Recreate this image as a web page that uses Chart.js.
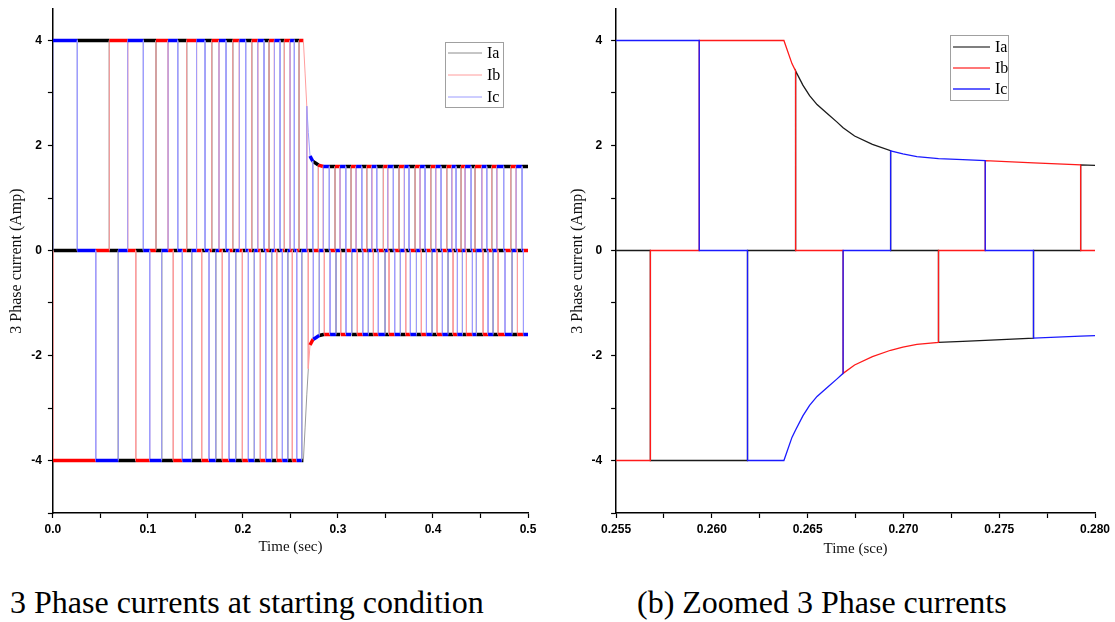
<!DOCTYPE html>
<html>
<head>
<meta charset="utf-8">
<script src="https://cdn.jsdelivr.net/npm/chart.js@4.4.1/dist/chart.umd.min.js"></script>
<style>
  body { margin: 0; background: #fff; width: 1115px; height: 622px; position: relative; overflow: hidden; }
  canvas { position: absolute; top: 0; }
  #c1 { left: 0; }
  #c2 { left: 560px; }
  .cap { position: absolute; top: 586px; font-family: "Liberation Serif", "Times New Roman", serif; font-size: 32px; line-height: 32px; color: #000; white-space: nowrap; }
</style>
</head>
<body>
<canvas id="c1" width="545" height="560"></canvas>
<canvas id="c2" width="555" height="560"></canvas>
<div class="cap" style="left:10px">3 Phase currents at starting condition</div>
<div class="cap" style="left:637px">(b) Zoomed 3 Phase currents</div>
<script>
// phases and six-step conduction states (sign of Ia, Ib, Ic)
const phaseNames = ['Ia', 'Ib', 'Ic'];
const stepSigns = [[0, -1, 1], [-1, 0, 1], [-1, 1, 0], [0, 1, -1], [1, 0, -1], [1, -1, 0]];

// (a) start-up 0 - 0.5 s : commutation instants (s)
const startTimes = [
  0.0257, 0.0451, 0.0594, 0.0688, 0.0787, 0.0872, 0.0952, 0.1019, 0.1085, 0.1145,
  0.1212, 0.1267, 0.1314, 0.1362, 0.1408, 0.1461, 0.1512, 0.1566, 0.1601, 0.1643,
  0.1672, 0.1714, 0.1748, 0.1783, 0.1822, 0.1854, 0.1893, 0.1924, 0.1962, 0.1994,
  0.2029, 0.2057, 0.2093, 0.2120, 0.2156, 0.2183, 0.2222, 0.2240, 0.2275, 0.2303,
  0.2331, 0.2356, 0.2391, 0.2415, 0.2436, 0.2472, 0.2496, 0.2520, 0.2541, 0.2566,
  0.2591, 0.2619, 0.2672, 0.2688, 0.2735, 0.2741, 0.2794, 0.2804, 0.2846, 0.2857,
  0.2909, 0.2917, 0.2969, 0.2980, 0.3022, 0.3029, 0.3082, 0.3085, 0.3138, 0.3145,
  0.3191, 0.3204, 0.3251, 0.3261, 0.3303, 0.3320, 0.3356, 0.3373, 0.3408, 0.3425,
  0.3478, 0.3496, 0.3524, 0.3538, 0.3583, 0.3597, 0.3643, 0.3657, 0.3699, 0.3713,
  0.3748, 0.3762, 0.3812, 0.3826, 0.3864, 0.3878, 0.3917, 0.3931, 0.3977, 0.3991,
  0.4029, 0.4043, 0.4085, 0.4099, 0.4145, 0.4159, 0.4198, 0.4212, 0.4243, 0.4257,
  0.4296, 0.4310, 0.4338, 0.4352, 0.4401, 0.4415, 0.4443, 0.4457, 0.4514, 0.4528,
  0.4566, 0.4580, 0.4619, 0.4633, 0.4672, 0.4686, 0.4744, 0.4758, 0.4819, 0.4833,
  0.4875, 0.4889, 0.4938, 0.4952
];
// current amplitude (A) at given times
const startAmpT = [0, 0.2636, 0.2654, 0.2672, 0.2688, 0.2706, 0.2735, 0.2741, 0.2759, 0.2794, 0.2804, 0.2846, 0.5];
const startAmp  = [4.0, 4.0, 3.38, 2.75, 2.25, 1.80, 1.70, 1.69, 1.67, 1.63, 1.62, 1.60, 1.60];

// (b) zoom 0.255 - 0.280 s
const zoomTimes = [0.25679, 0.25934, 0.26186, 0.26437, 0.26685, 0.26933, 0.27183, 0.27427, 0.27679, 0.27925];
const zoomAmpT = [0.255, 0.26376, 0.26418, 0.26437, 0.26475, 0.2651, 0.26549, 0.26605, 0.26652, 0.26685, 0.26745,
                  0.26838, 0.26933, 0.26997, 0.2707, 0.27183, 0.2731, 0.27427, 0.27679, 0.27925, 0.280];
const zoomAmp  = [4.0, 4.0, 3.56, 3.42, 3.15, 2.95, 2.78, 2.60, 2.45, 2.34, 2.18,
                  2.02, 1.90, 1.84, 1.79, 1.75, 1.73, 1.71, 1.67, 1.63, 1.62];

// tick labels
const yTickLabels = ['-4', '-2', '0', '2', '4'];
const xLabelsA = ['0.0', '0.1', '0.2', '0.3', '0.4', '0.5'];
const xLabelsB = ['0.255', '0.260', '0.265', '0.270', '0.275', '0.280'];

function ampAt(t, ampT, amp) {
  let v = amp[0];
  for (let i = 0; i < ampT.length; i++) {
    if (ampT[i] <= t) v = amp[i];
  }
  return v;
}

// step trace of one phase: sign from the six-step state, level from the amplitude table
function phaseData(p, times, dir, ampT, amp, t0, t1, fromZero) {
  const pts = [];
  const add = (x, y) => {
    const l = pts[pts.length - 1];
    if (!l || l.x !== x || l.y !== y) pts.push({ x: x, y: y });
  };
  if (fromZero) add(t0, 0);
  const edges = [t0].concat(times, [t1]);
  for (let k = 0; k < edges.length - 1; k++) {
    const st = ((dir * k) % 6 + 6) % 6;
    const s = stepSigns[st][p];
    const a = edges[k], b = edges[k + 1];
    add(a, s * ampAt(a, ampT, amp));
    ampT.forEach((t, i) => { if (t > a && t < b) add(t, s * amp[i]); });
    add(b, s * ampAt(b, ampT, amp));
  }
  return pts;
}

// Origin style legend box
const boxLegend = {
  id: 'boxLegend',
  afterDraw(chart, args, o) {
    const ctx = chart.ctx, a = chart.chartArea;
    const x = a.right - o.dx, y = a.top + o.dy;
    ctx.save();
    ctx.strokeStyle = '#a0a0a0';
    ctx.lineWidth = 1;
    ctx.strokeRect(x + 0.5, y + 0.5, o.w, o.h);
    ctx.font = '16px "Liberation Serif", "Times New Roman", serif';
    ctx.textBaseline = 'middle';
    ctx.textAlign = 'left';
    phaseNames.forEach((name, i) => {
      const yy = y + o.first + i * o.gap;
      ctx.strokeStyle = o.colors[i];
      ctx.lineWidth = o.lw;
      ctx.beginPath();
      ctx.moveTo(x + 3, yy);
      ctx.lineTo(x + 3 + o.len, yy);
      ctx.stroke();
      ctx.fillStyle = '#000';
      ctx.fillText(name, x + o.len + 8, yy + 1);
    });
    ctx.restore();
  }
};

const tickFont = { family: '"Liberation Sans", Arial, sans-serif', size: 12, weight: 'bold' };
const titleFont = { family: '"Liberation Serif", "Times New Roman", serif', size: 16 };

// keep the plot box where the reference has it
function noPad(s) {
  s.paddingTop = 0; s.paddingBottom = 0; s.paddingLeft = 0; s.paddingRight = 0;
}

function axisY(yPad, width, titlePad) {
  return {
    type: 'linear', min: -5, max: 4.6,
    afterFit: s => { s.width = width; noPad(s); },
    border: { color: '#000', width: 1.5 },
    grid: { drawOnChartArea: false, color: '#000', tickLength: 5, tickWidth: 1.2 },
    ticks: {
      stepSize: 1, includeBounds: false, autoSkip: false, color: '#000', font: tickFont, padding: yPad,
      callback: v => (yTickLabels.includes(String(v)) ? String(v) : '')
    },
    title: { display: true, text: '3 Phase current (Amp)', color: '#111', font: titleFont, padding: { top: titlePad, bottom: 0 } }
  };
}

function axisX(min, max, step, labels, digits, title, tPad) {
  return {
    type: 'linear', min: min, max: max,
    afterFit: s => { s.height = 47; noPad(s); },
    border: { color: '#000', width: 1.5 },
    grid: { drawOnChartArea: false, color: '#000', tickLength: 5, tickWidth: 1.2 },
    ticks: {
      stepSize: step, includeBounds: false, autoSkip: false, maxRotation: 0, color: '#000', font: tickFont, padding: 4,
      callback: v => {
        const s = v.toFixed(digits);
        return (Math.abs(v - parseFloat(s)) < 1e-9 && labels.includes(s)) ? s : '';
      }
    },
    title: { display: true, text: title, color: '#111', font: { family: titleFont.family, size: 15 }, padding: { top: 0, bottom: tPad } }
  };
}

// chart (a): flat parts drawn thick, steep edges thin and pale
const solidA = ['#000000', '#ff0000', '#0000ff'];
const paleA = ['#9a9a9a', '#ff9d9d', '#9d9dff'];
const isSteep = c => Math.abs(c.p1.y - c.p0.y) > 2 * Math.abs(c.p1.x - c.p0.x);

new Chart(document.getElementById('c1'), {
  type: 'line',
  data: {
    datasets: phaseNames.map((name, p) => ({
      label: name,
      data: phaseData(p, startTimes, -1, startAmpT, startAmp, 0, 0.5, true),
      order: 3 - p,
      borderColor: solidA[p],
      borderWidth: 3.5,
      pointRadius: 0,
      tension: 0,
      segment: {
        borderColor: c => (isSteep(c) ? paleA[p] : solidA[p]),
        borderWidth: c => (isSteep(c) ? 1 : 3.5)
      }
    }))
  },
  options: {
    responsive: false, animation: false, parsing: false, normalized: true,
    layout: { padding: { left: 0, right: 17, top: 9, bottom: 0 } },
    plugins: {
      legend: { display: false }, tooltip: { enabled: false },
      boxLegend: { dx: 83, dy: 33, w: 58, h: 65, first: 11, gap: 22, len: 34, lw: 1, colors: ['#8c8c8c', '#ff9c9c', '#9c9cff'] }
    },
    scales: {
      x: axisX(0, 0.5, 0.05, xLabelsA, 1, 'Time (sec)', 4),
      y: axisY(6, 52.9, 7.5)
    }
  },
  plugins: [boxLegend]
});

// chart (b)
const solidB = ['#1a1a1a', '#ff1a1a', '#1a1aff'];
new Chart(document.getElementById('c2'), {
  type: 'line',
  data: {
    datasets: phaseNames.map((name, p) => ({
      label: name,
      data: phaseData(p, zoomTimes, 1, zoomAmpT, zoomAmp, 0.255, 0.280, false),
      order: 3 - p,
      borderColor: solidB[p],
      borderWidth: 1.3,
      pointRadius: 0,
      tension: 0
    }))
  },
  options: {
    responsive: false, animation: false, parsing: false, normalized: true,
    layout: { padding: { left: 0, right: 20, top: 9, bottom: 0 } },
    plugins: {
      legend: { display: false }, tooltip: { enabled: false },
      boxLegend: { dx: 145, dy: 26, w: 58, h: 65, first: 12, gap: 21, len: 37, lw: 1.5, colors: ['#555555', '#ff4a4a', '#2a2aff'] }
    },
    scales: {
      x: axisX(0.255, 0.280, 0.0025, xLabelsB, 3, 'Time (sce)', 2),
      y: axisY(9, 56.1, 8.5)
    }
  },
  plugins: [boxLegend]
});
</script>
</body>
</html>
